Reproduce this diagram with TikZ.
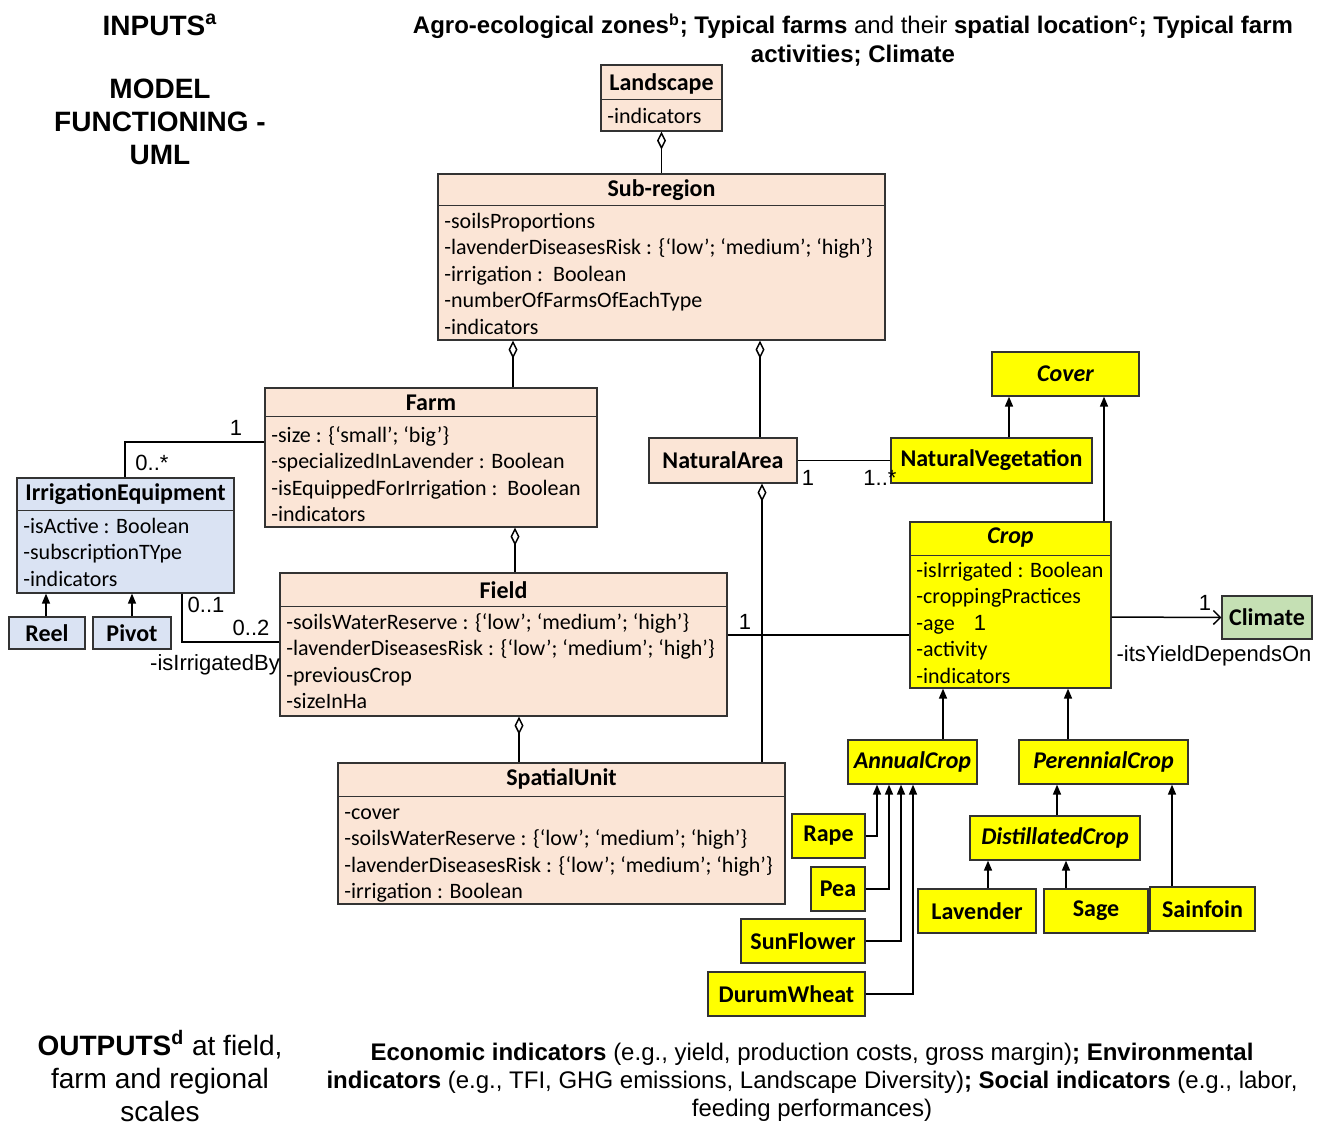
\documentclass[tikz,border=0pt]{standalone}
\usepackage{fontspec}
\setmainfont{Carlito}
\newfontfamily\arialfont{Liberation Sans}
\usetikzlibrary{shapes,arrows.meta,positioning,calc,fit}

\definecolor{peach}{RGB}{251,229,214}
\definecolor{paleblue}{RGB}{218,227,243}
\definecolor{cropyellow}{RGB}{255,255,0}
\definecolor{palegreen}{RGB}{197,224,180}

\tikzstyle{cls} = [draw=black!80, line width=0.6pt, inner sep=0pt]
\tikzstyle{hdr} = [inner sep=0pt, font=\fontsize{12}{14}\selectfont\bfseries]
\tikzstyle{attr} = [inner sep=0pt, anchor=base west, font=\fontsize{11}{13}\selectfont]
\tikzstyle{lbl} = [inner sep=0pt, font=\arialfont\fontsize{11}{13}\selectfont]
\tikzstyle{agg} = [{Diamond[open,length=9pt,width=4.5pt]}-, line width=0.75pt]
\tikzstyle{gen} = [-{Triangle[length=5pt,width=4pt]}, line width=0.75pt]
\tikzstyle{dep} = [-{Straight Barb[length=3.5pt,width=7pt]}, line width=0.75pt]
\tikzstyle{assoc} = [line width=0.75pt]

\begin{document}
\begin{tikzpicture}[x=0.5pt, y=-0.5pt]
\useasboundingbox (0,0) rectangle (1323,1126);

\node[font=\arialfont\bfseries\fontsize{14}{16.5}\selectfont] (inputs) at (160,25) {INPUTS\textsuperscript{a}};
\node[align=center, font=\arialfont\bfseries\fontsize{14}{16.5}\selectfont] (model) at (160,122) {MODEL\\FUNCTIONING -\\UML};
\node[align=center, font=\arialfont\fontsize{12}{14.5}\selectfont] (inputs-txt) at (853,40)
  {\textbf{Agro-ecological zones}\textsuperscript{\textbf{b}}\textbf{; Typical farms} and their \textbf{spatial location}\textsuperscript{\textbf{c}}\textbf{; Typical farm}\\\textbf{activities; Climate}};
\node[align=center, font=\arialfont\fontsize{14}{16.5}\selectfont] (outputs) at (160,1076) {\textbf{OUTPUTS}\textsuperscript{\textbf{d}} at field,\\farm and regional\\scales};
\node[align=center, font=\arialfont\fontsize{12}{14}\selectfont] (outputs-txt) at (812,1082)
  {\textbf{Economic indicators} (e.g., yield, production costs, gross margin)\textbf{; Environmental}\\\textbf{indicators} (e.g., TFI, GHG emissions, Landscape Diversity)\textbf{; Social indicators} (e.g., labor,\\feeding performances)};

% landscape and sub-region
\node[cls, fill=peach, fit={(601,65) (722,131)}] (land) {};
\draw[draw=black!80] (land.west |- 0,99) -- (land.east |- 0,99);
\node[hdr] (land-t) at (661.5,84) {Landscape};
\node[attr] (land-1) at (607,123) {-indicators};

\node[cls, fill=peach, fit={(438,174) (885,340)}] (sub) {};
\draw[draw=black!80] (sub.west |- 0,205) -- (sub.east |- 0,205);
\node[hdr] (sub-t) at (661.5,190) {Sub-region};
\foreach \txt [count=\i] in {-soilsProportions, {-lavenderDiseasesRisk : \{‘low’; ‘medium’; ‘high’\}}, {-irrigation :\ \ Boolean}, -numberOfFarmsOfEachType, -indicators}
  \node[attr] (sub-\i) at (444,201.5+26.5*\i) {\txt};

% farm, field, spatial unit
\node[cls, fill=peach, fit={(265,388) (597,527)}] (frm) {};
\draw[draw=black!80] (frm.west |- 0,416) -- (frm.east |- 0,416);
\node[hdr] (frm-t) at (431,403) {Farm};
\foreach \txt [count=\i] in {{-size : \{‘small’; ‘big’\}}, {-specializedInLavender : Boolean}, {-isEquippedForIrrigation :\ \ Boolean}, -indicators}
  \node[attr] (frm-\i) at (271,415.5+26.5*\i) {\txt};

\node[cls, fill=peach, fit={(280,573) (727,716)}] (fld) {};
\draw[draw=black!80] (fld.west |- 0,606) -- (fld.east |- 0,606);
\node[hdr] (fld-t) at (503.5,590) {Field};
\foreach \txt [count=\i] in {{-soilsWaterReserve : \{‘low’; ‘medium’; ‘high’\}}, {-lavenderDiseasesRisk : \{‘low’; ‘medium’; ‘high’\}}, -previousCrop, -sizeInHa}
  \node[attr] (fld-\i) at (286,602.5+26.5*\i) {\txt};

\node[cls, fill=peach, fit={(338,763) (785,904)}] (spu) {};
\draw[draw=black!80] (spu.west |- 0,796) -- (spu.east |- 0,796);
\node[hdr] (spu-t) at (561.5,779) {SpatialUnit};
\foreach \txt [count=\i] in {-cover, {-soilsWaterReserve : \{‘low’; ‘medium’; ‘high’\}}, {-lavenderDiseasesRisk : \{‘low’; ‘medium’; ‘high’\}}, {-irrigation : Boolean}}
  \node[attr] (spu-\i) at (344,792.5+26.5*\i) {\txt};

\node[cls, fill=peach, fit={(649,438) (797,483)}] (nat) {};
\node[hdr] (nat-t) at (nat.center) {NaturalArea};

% irrigation
\node[cls, fill=paleblue, fit={(17,478) (234,593)}] (irr) {};
\draw[draw=black!80] (irr.west |- 0,510) -- (irr.east |- 0,510);
\node[hdr] (irr-t) at (125.5,494) {IrrigationEquipment};
\foreach \txt [count=\i] in {{-isActive : Boolean}, -subscriptionTYpe, -indicators}
  \node[attr] (irr-\i) at (23,506.5+26.5*\i) {\txt};
\node[cls, fill=paleblue, fit={(9,617) (85,649)}] (reel) {};
\node[hdr] (reel-t) at (reel.center) {Reel};
\node[cls, fill=paleblue, fit={(93,617) (171,649)}] (pivot) {};
\node[hdr] (pivot-t) at (pivot.center) {Pivot};

% crops
\node[cls, fill=cropyellow, fit={(891,438) (1092,483)}] (nveg) {};
\node[hdr] (nveg-t) at (nveg.center) {NaturalVegetation};
\node[cls, fill=cropyellow, fit={(992,352) (1139,396)}] (cov) {};
\node[hdr] (cov-t) at (cov.center) {\itshape Cover};
\node[cls, fill=cropyellow, fit={(910,522) (1111,688)}] (crop) {};
\draw[draw=black!80] (crop.west |- 0,555) -- (crop.east |- 0,555);
\node[hdr] (crop-t) at (1010.5,538) {\itshape Crop};
\foreach \txt [count=\i] in {{-isIrrigated : Boolean}, -croppingPractices, -age, -activity, -indicators}
  \node[attr] (crop-\i) at (916,550.5+26.5*\i) {\txt};
\node[lbl] (age-n) at (980,623) {1};
\node[cls, fill=palegreen, fit={(1222,596) (1312,639)}] (clim) {};
\node[hdr] (clim-t) at (clim.center) {Climate};

\node[cls, fill=cropyellow, fit={(848,740) (977,784)}] (ann) {};
\node[hdr] (ann-t) at (ann.center) {\itshape AnnualCrop};
\node[cls, fill=cropyellow, fit={(1019,740) (1188,784)}] (per) {};
\node[hdr] (per-t) at (per.center) {\itshape PerennialCrop};
\node[cls, fill=cropyellow, fit={(970,816) (1140,860)}] (dist) {};
\node[hdr] (dist-t) at (dist.center) {\itshape DistillatedCrop};
\node[cls, fill=cropyellow, fit={(792,814) (865,858)}] (rape) {};
\node[hdr] (rape-t) at (rape.center) {Rape};
\node[cls, fill=cropyellow, fit={(811,867) (865,911)}] (pea) {};
\node[hdr] (pea-t) at (pea.center) {Pea};
\node[cls, fill=cropyellow, fit={(741,919) (865,963)}] (sun) {};
\node[hdr] (sun-t) at (sun.center) {SunFlower};
\node[cls, fill=cropyellow, fit={(708,972) (865,1016)}] (durum) {};
\node[hdr] (durum-t) at (durum.center) {DurumWheat};
\node[cls, fill=cropyellow, fit={(918,889) (1036,933)}] (lav) {};
\node[hdr] (lav-t) at (lav.center) {Lavender};
\node[cls, fill=cropyellow, fit={(1044,889) (1148,933)}] (sage) {};
\node[hdr] (sage-t) at (sage.center) {Sage};
\node[cls, fill=cropyellow, fit={(1150,887) (1255,931)}] (sain) {};
\node[hdr] (sain-t) at (sain.center) {Sainfoin};

% aggregations
\draw[agg] (land.south) -- (sub.north);
\draw[agg] (sub.south -| 513,0) -- (frm.north -| 513,0);
\draw[agg] (sub.south -| 760,0) -- (nat.north -| 760,0);
\draw[agg] (frm.south -| 515,0) -- (fld.north -| 515,0);
\draw[agg] (fld.south -| 519,0) -- (spu.north -| 519,0);
\draw[agg] (nat.south -| 762,0) -- (spu.north -| 762,0);

% associations
\draw[assoc] (irr.north -| 125,0) |- (frm.west |- 0,442);
\draw[assoc] (irr.south -| 182,0) |- (fld.west |- 0,642);
\draw[assoc] (nat.east) -- (nveg.west);
\draw[assoc] (fld.east |- 0,635) -- (crop.west |- 0,635);
\draw[dep] (crop.east |- 0,617) -- (clim.west);
\node[lbl] (m1) at (236,428) {1};
\node[lbl] (m2) at (152,463) {0..*};
\node[lbl] (m3) at (206,605) {0..1};
\node[lbl] (m4) at (251,628) {0..2};
\node[lbl] (role1) at (215,665) {-isIrrigatedBy};
\node[lbl] (m5) at (808,478) {1};
\node[lbl] (m6) at (880,478) {1..*};
\node[lbl] (m7) at (745,622) {1};
\node[lbl] (m8) at (1205,603) {1};
\node[lbl] (role2) at (1214,656) {-itsYieldDependsOn};

% generalizations
\draw[gen] (reel.north -| 46,0) -- (irr.south -| 46,0);
\draw[gen] (pivot.north -| 132,0) -- (irr.south -| 132,0);
\draw[gen] (nveg.north -| 1009,0) -- (cov.south -| 1009,0);
\draw[gen] (crop.north -| 1104,0) -- (cov.south -| 1104,0);
\draw[gen] (ann.north -| 943,0) -- (crop.south -| 943,0);
\draw[gen] (per.north -| 1068,0) -- (crop.south -| 1068,0);
\draw[gen] (dist.north -| 1057,0) -- (per.south -| 1057,0);
\draw[gen] (sain.north -| 1172,0) -- (per.south -| 1172,0);
\draw[gen] (lav.north -| 988,0) -- (dist.south -| 988,0);
\draw[gen] (sage.north -| 1066,0) -- (dist.south -| 1066,0);
\draw[gen] (rape.east) -| (ann.south -| 877,0);
\draw[gen] (pea.east) -| (ann.south -| 889,0);
\draw[gen] (sun.east) -| (ann.south -| 901,0);
\draw[gen] (durum.east) -| (ann.south -| 913,0);
\end{tikzpicture}
\end{document}
